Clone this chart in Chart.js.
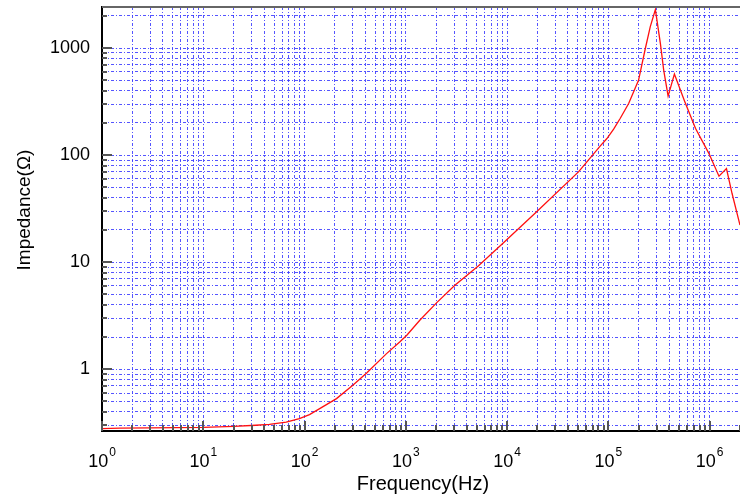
<!DOCTYPE html>
<html>
<head>
<meta charset="utf-8">
<script src="https://cdn.jsdelivr.net/npm/chart.js@4/dist/chart.umd.min.js"></script>
<style>
  html, body { margin: 0; padding: 0; background: #fff; }
  #wrap { width: 740px; height: 501px; }
</style>
</head>
<body>
<div id="wrap"><canvas id="canvas1"></canvas></div>
<script>
// impedance sweep, read point by point
const freqHz = [1, 1.5, 3, 10, 20, 33, 45, 66, 89, 112, 151, 207, 300, 411, 646, 871,
  1024, 1376, 2013, 3054, 5200, 9120, 19500, 50800, 83500, 97000, 113000, 131000,
  159000, 199000, 232000, 260000, 292000, 327000, 353000, 390000, 450000, 570000,
  726000, 985000, 1240000, 1470000, 1670000, 2000000];
const impedance = [0.279, 0.282, 0.284, 0.287, 0.293, 0.300, 0.306, 0.320, 0.346, 0.377,
  0.445, 0.532, 0.709, 0.924, 1.40, 1.80, 2.08, 2.87, 4.17, 6.1, 9.2, 15.0, 29.5, 69.8,
  122, 143, 175, 220, 304, 500, 986, 1585, 2290, 1106, 620, 356, 571, 315, 178, 104,
  63.6, 75, 43.8, 22.2];

const xExponents = [0, 1, 2, 3, 4, 5, 6];
const yLabels = [1, 10, 100, 1000];
const xMin = 1, xMax = 2000000;
const yMin = 0.265, yMax = 2420;

const FONT = "'Liberation Sans', Arial, sans-serif";
const gridColor = 'rgba(55,55,255,0.85)';

// 1..9 steps per decade between lo and hi
function logSteps(lo, hi) {
  let out = [];
  for (let e = -2; e <= 7; e++) {
    for (let s = 1; s <= 9; s++) {
      let v = +(s * Math.pow(10, e)).toPrecision(6);
      if (v >= lo && v <= hi) out.push(v);
    }
  }
  return out;
}

function isDecade(v) {
  let l = Math.log10(v);
  return Math.abs(l - Math.round(l)) < 1e-9;
}

function setTicks(lo, hi) {
  return function (scale) {
    scale.ticks = logSteps(lo, hi).map(v => ({ value: v, major: isDecade(v) }));
  };
}

const frame = {
  id: 'frame',
  afterDraw(chart) {
    const c = chart.ctx;
    const a = chart.chartArea;
    const xs = chart.scales.x, ys = chart.scales.y;
    c.save();
    c.setLineDash([]);

    // top edge
    c.strokeStyle = '#666';
    c.lineWidth = 2;
    c.beginPath();
    c.moveTo(a.left, a.top);
    c.lineTo(a.right, a.top);
    c.stroke();

    // inward tick marks
    c.strokeStyle = '#555';
    c.lineWidth = 2;
    ys.ticks.forEach(t => {
      let py = Math.round(ys.getPixelForValue(t.value));
      let len = t.major ? 10 : 5;
      c.beginPath();
      c.moveTo(a.left, py);
      c.lineTo(a.left + len, py);
      c.stroke();
    });
    xs.ticks.forEach(t => {
      let px = Math.round(xs.getPixelForValue(t.value));
      let len = t.major ? 10 : 6;
      c.beginPath();
      c.moveTo(px, a.bottom);
      c.lineTo(px, a.bottom - len);
      c.stroke();
    });

    // x labels as 10^n
    c.fillStyle = '#000';
    c.textBaseline = 'alphabetic';
    c.textAlign = 'left';
    xExponents.forEach(e => {
      let px = xs.getPixelForValue(Math.pow(10, e));
      c.font = '18px ' + FONT;
      let w1 = c.measureText('10').width;
      c.font = '12px ' + FONT;
      let w2 = c.measureText(String(e)).width;
      let x0 = px - (w1 + w2 + 1) / 2;
      c.font = '18px ' + FONT;
      c.fillText('10', x0, 467);
      c.font = '12px ' + FONT;
      c.fillText(String(e), x0 + w1 + 1, 456);
    });

    // axis titles
    c.font = '20px ' + FONT;
    c.textAlign = 'center';
    c.fillText('Frequency(Hz)', (a.left + a.right) / 2 + 2, 490);

    c.font = '19px ' + FONT;
    c.translate(30, 210);
    c.rotate(-Math.PI / 2);
    c.fillText('Impedance(Ω)', 0, 0);
    c.restore();
  }
};

function noPad(s) {
  s.paddingTop = 0;
  s.paddingBottom = 0;
  s.paddingLeft = 0;
  s.paddingRight = 0;
}

const ctx = document.getElementById('canvas1');
const chart1 = new Chart(ctx, {
  type: 'line',
  data: {
    datasets: [{
      label: 'Impedance',
      data: freqHz.map((f, i) => ({ x: f, y: impedance[i] })),
      borderColor: '#ff1010',
      borderWidth: 1.3,
      pointRadius: 0,
      tension: 0,
      fill: false
    }]
  },
  options: {
    responsive: true,
    maintainAspectRatio: false,
    animation: false,
    layout: { padding: { top: 7, right: 0, left: 0, bottom: 0 } },
    plugins: {
      legend: { display: false },
      tooltip: { enabled: false }
    },
    scales: {
      x: {
        type: 'logarithmic',
        min: xMin,
        max: xMax,
        afterBuildTicks: setTicks(xMin, xMax),
        afterFit: s => { s.height = 70; noPad(s); },
        ticks: { display: false, autoSkip: false },
        grid: { color: gridColor, lineWidth: 1, drawTicks: false },
        border: { display: true, color: '#000', width: 2, dash: [3, 2, 1, 2] }
      },
      y: {
        type: 'logarithmic',
        min: yMin,
        max: yMax,
        afterBuildTicks: setTicks(yMin, yMax),
        afterFit: s => { s.width = 102; noPad(s); },
        ticks: {
          autoSkip: false,
          padding: 12,
          color: '#000',
          font: { family: FONT, size: 18 },
          callback: v => (yLabels.includes(v) ? String(v) : '')
        },
        grid: { color: gridColor, lineWidth: 1, drawTicks: false },
        border: { display: true, color: '#000', width: 2, dash: [3, 2, 1, 2] }
      }
    }
  },
  plugins: [frame]
});
</script>
</body>
</html>
